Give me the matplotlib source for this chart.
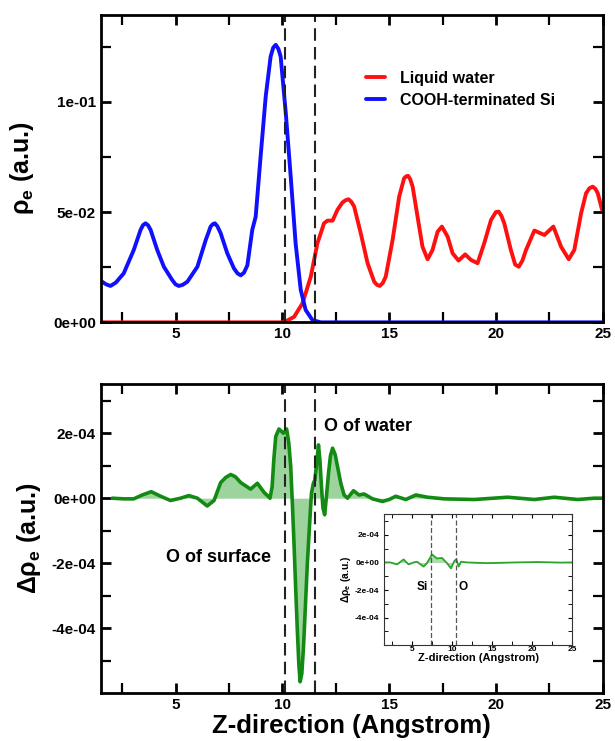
import numpy as np
import matplotlib.pyplot as plt
from matplotlib.ticker import MultipleLocator, FuncFormatter

plt.rcParams['font.family'] = ['Liberation Sans', 'DejaVu Sans']
plt.rcParams['font.weight'] = 'bold'
plt.rcParams['mathtext.fontset'] = 'custom'
plt.rcParams['mathtext.rm'] = 'Liberation Sans'
plt.rcParams['mathtext.it'] = 'Liberation Sans:italic'
plt.rcParams['mathtext.bf'] = 'Liberation Sans:bold'

# electron density, COOH-terminated Si slab
z_si = [1.56, 1.75, 1.95, 2.2, 2.57, 3.04, 3.36, 3.47, 3.59, 3.71, 3.83, 4.14,
        4.45, 4.84, 5.0, 5.15, 5.33, 5.55, 6.02, 6.41, 6.64, 6.74, 6.84, 6.96,
        7.11, 7.42, 7.73, 7.9, 8.05, 8.2, 8.36, 8.59, 8.75, 8.98, 9.22, 9.45,
        9.57, 9.69, 9.81, 9.92, 10.16, 10.39, 10.62, 10.86, 11.09, 11.41, 11.8,
        25.0]
rho_si = [0.0184, 0.0172, 0.0165, 0.018, 0.0222, 0.0328, 0.0419, 0.044, 0.0449,
          0.044, 0.0419, 0.0328, 0.0252, 0.0192, 0.0172, 0.0165, 0.017, 0.0184,
          0.0252, 0.0373, 0.0434, 0.0445, 0.0449, 0.0435, 0.0404, 0.0313,
          0.0245, 0.0222, 0.0213, 0.0225, 0.0258, 0.0419, 0.0479, 0.0751,
          0.1024, 0.1205, 0.1245, 0.1258, 0.124, 0.1205, 0.0948, 0.0661,
          0.0358, 0.0147, 0.0056, 0.001, 0.0, 0.0]

# electron density, liquid water
z_w = [1.5, 10.08, 10.55, 10.94, 11.33, 11.64, 11.95, 12.11, 12.35, 12.58,
       12.81, 12.95, 13.1, 13.23, 13.36, 13.67, 13.99, 14.3, 14.43, 14.56, 14.7,
       14.84, 15.16, 15.47, 15.7, 15.8, 15.89, 15.99, 16.1, 16.33, 16.56, 16.8,
       17.03, 17.27, 17.47, 17.74, 17.97, 18.25, 18.56, 18.83, 19.14, 19.45,
       19.77, 20.0, 20.13, 20.26, 20.39, 20.7, 20.9, 21.07, 21.24, 21.41, 21.8,
       22.27, 22.69, 23.05, 23.41, 23.67, 23.99, 24.22, 24.38, 24.53, 24.66,
       24.77, 24.97]
rho_w = [0.0, 0.0, 0.0025, 0.0086, 0.0207, 0.0358, 0.0449, 0.0461, 0.0461,
         0.051, 0.0543, 0.0553, 0.0558, 0.0546, 0.0525, 0.0404, 0.0268, 0.0184,
         0.017, 0.0165, 0.0178, 0.0207, 0.0373, 0.057, 0.0653, 0.0662, 0.0664,
         0.0648, 0.0615, 0.0479, 0.0343, 0.0286, 0.0328, 0.0411, 0.0434,
         0.0388, 0.0313, 0.028, 0.0308, 0.0283, 0.0268, 0.0358, 0.0464, 0.05,
         0.0502, 0.0482, 0.0449, 0.0328, 0.0262, 0.0252, 0.028, 0.0328, 0.0416,
         0.0396, 0.0434, 0.0343, 0.0286, 0.0328, 0.0495, 0.0585, 0.0608, 0.0615,
         0.0605, 0.0585, 0.051]

# charge density difference
z_d = [2.03, 2.58, 3.04, 3.44, 3.86, 4.3, 4.76, 5.23, 5.62, 6.02, 6.48, 6.8,
       7.11, 7.35, 7.58, 7.8, 8.05, 8.51, 8.83, 9.14, 9.3, 9.42, 9.52, 9.6,
       9.69, 9.84, 10.05, 10.2, 10.3, 10.39, 10.47, 10.55, 10.63, 10.7, 10.77,
       10.83, 10.91, 10.99, 11.08, 11.17, 11.27, 11.36, 11.45, 11.52, 11.61,
       11.69, 11.76, 11.83, 11.9, 11.98, 12.07, 12.16, 12.25, 12.35, 12.47,
       12.58, 12.74, 12.89, 13.05, 13.33, 13.59, 13.83, 14.22, 14.69, 15.0,
       15.31, 15.78, 16.25, 16.8, 17.58, 18.98, 20.55, 21.8, 22.73, 23.83,
       24.6, 25.0]
drho = [0.0, -0.02e-4, -0.02e-4, 0.1e-4, 0.2e-4, 0.06e-4, -0.07e-4, 0.0,
        0.08e-4, 0.0, -0.24e-4, -0.07e-4, 0.48e-4, 0.64e-4, 0.73e-4, 0.66e-4,
        0.48e-4, 0.28e-4, 0.46e-4, 0.18e-4, 0.08e-4, 0.0, 0.35e-4, 1.2e-4,
        1.9e-4, 2.13e-4, 2.0e-4, 2.13e-4, 1.7e-4, 0.98e-4, -0.2e-4, -1.49e-4,
        -2.9e-4, -4.06e-4, -5.1e-4, -5.65e-4, -5.4e-4, -4.57e-4, -3.3e-4,
        -2.0e-4, -0.85e-4, 0.15e-4, 0.45e-4, 0.56e-4, 1.1e-4, 1.64e-4, 1.15e-4,
        0.36e-4, -0.3e-4, -0.51e-4, 0.1e-4, 0.77e-4, 1.3e-4, 1.54e-4, 1.35e-4,
        0.98e-4, 0.45e-4, 0.1e-4, 0.0, 0.23e-4, 0.1e-4, 0.13e-4, -0.02e-4,
        -0.1e-4, -0.04e-4, 0.06e-4, -0.04e-4, 0.1e-4, 0.03e-4, -0.02e-4,
        -0.04e-4, 0.03e-4, -0.04e-4, 0.03e-4, -0.04e-4, 0.0, 0.0]

# inset: charge density difference, Si side
z_in = [1.6, 2.29, 3.13, 3.95, 4.57, 5.2, 5.62, 6.45, 6.87, 7.5, 8.12, 8.75,
        9.37, 9.87, 10.29, 10.54, 10.83, 11.12, 11.9, 14.4, 17.8, 20.7, 23.6,
        25.0]
drho_in = [0.0, 0.0, -0.14e-4, 0.22e-4, -0.14e-4, 0.0, 0.05e-4, -0.3e-4,
           -0.05e-4, 0.58e-4, 0.29e-4, 0.33e-4, -0.05e-4, -0.43e-4, 0.1e-4,
           0.24e-4, -0.3e-4, 0.05e-4, 0.0, -0.05e-4, 0.0, 0.03e-4, -0.01e-4,
           0.0]

# interface boundaries
bounds = [10.13, 11.52]
bounds_in = [7.37, 10.45]

GREEN = '#138a13'
FILL = '#5cb85c'


def sci(v, p):
    return f'{v:.0e}'


def style_axes(ax, lw=2.0, major=7, minor=7, labelsize=11):
    for sp in ax.spines.values():
        sp.set_linewidth(lw)
    ax.tick_params(which='both', direction='in', top=True, right=True,
                   labelsize=labelsize)
    ax.tick_params(which='major', length=major, width=lw)
    ax.tick_params(which='minor', length=minor, width=lw * 0.8)
    for lab in ax.get_xticklabels() + ax.get_yticklabels():
        lab.set_fontweight('bold')


fig = plt.figure(figsize=(6.15, 7.41), dpi=100)

# ---------- top: electron density ----------
ax1 = fig.add_axes([0.164, 0.565, 0.816, 0.415])
ax1.plot(z_w, rho_w, color='#ff1010', lw=2.8, label='Liquid water',
         solid_joinstyle='round', solid_capstyle='round')
ax1.plot(z_si, rho_si, color='#1010ff', lw=2.8, label='COOH-terminated Si',
         solid_joinstyle='round', solid_capstyle='round')
for b in bounds:
    ax1.axvline(b, color='#222222', lw=1.5, ls=(0, (6, 3)))
ax1.set_xlim(1.5, 25)
ax1.set_ylim(0, 0.1394)
ax1.xaxis.set_major_locator(MultipleLocator(5))
ax1.xaxis.set_minor_locator(MultipleLocator(2.5))
ax1.yaxis.set_major_locator(MultipleLocator(0.05))
ax1.yaxis.set_minor_locator(MultipleLocator(0.025))
ax1.yaxis.set_major_formatter(FuncFormatter(sci))
ax1.set_ylabel(r'$\mathrm{\rho}_{\mathbf{e}}$ (a.u.)', fontsize=18,
               fontweight='bold', labelpad=12)
style_axes(ax1)
ax1.legend(loc='upper left', bbox_to_anchor=(0.5, 0.865), frameon=False,
           prop={'weight': 'bold', 'size': 11.5}, handlelength=1.2,
           handletextpad=0.9, labelspacing=0.45)

# ---------- bottom: charge density difference ----------
ax2 = fig.add_axes([0.164, 0.065, 0.816, 0.417])
ax2.fill_between(z_d, drho, 0, color=FILL, alpha=0.6, lw=0)
ax2.plot(z_d, drho, color=GREEN, lw=2.6, solid_joinstyle='round',
         solid_capstyle='round')
for b in bounds:
    ax2.axvline(b, color='#222222', lw=1.5, ls=(0, (6, 3)))
ax2.set_xlim(1.5, 25)
ax2.set_ylim(-5.99e-4, 3.52e-4)
ax2.xaxis.set_major_locator(MultipleLocator(5))
ax2.xaxis.set_minor_locator(MultipleLocator(2.5))
ax2.yaxis.set_major_locator(MultipleLocator(2e-4))
ax2.yaxis.set_minor_locator(MultipleLocator(1e-4))
ax2.yaxis.set_major_formatter(FuncFormatter(sci))
ax2.set_ylabel(r'$\Delta\mathrm{\rho}_{\mathbf{e}}$ (a.u.)', fontsize=18,
               fontweight='bold', labelpad=6)
ax2.set_xlabel('Z-direction (Angstrom)', fontsize=18.5, fontweight='bold',
               labelpad=2)
style_axes(ax2)
ax2.text(11.95, 2.2e-4, 'O of water', fontsize=13, fontweight='bold',
         va='center')
ax2.text(4.55, -1.84e-4, 'O of surface', fontsize=13, fontweight='bold',
         va='center')

# ---------- inset ----------
ax3 = fig.add_axes([0.6244, 0.1296, 0.3057, 0.1764])
ax3.fill_between(z_in, drho_in, 0, color=FILL, alpha=0.5, lw=0)
ax3.plot(z_in, drho_in, color='#2aa52a', lw=1.3, solid_joinstyle='round')
for b in bounds_in:
    ax3.axvline(b, color='#555555', lw=0.9, ls=(0, (4, 2)))
ax3.set_xlim(1.5, 25)
ax3.set_ylim(-5.99e-4, 3.5e-4)
ax3.xaxis.set_major_locator(MultipleLocator(5))
ax3.xaxis.set_minor_locator(MultipleLocator(2.5))
ax3.yaxis.set_major_locator(MultipleLocator(2e-4))
ax3.yaxis.set_minor_locator(MultipleLocator(1e-4))
ax3.yaxis.set_major_formatter(FuncFormatter(sci))
ax3.set_ylabel(r'$\Delta\mathrm{\rho}_{\mathbf{e}}$ (a.u.)', fontsize=7.5,
               fontweight='bold', labelpad=1)
ax3.set_xlabel('Z-direction (Angstrom)', fontsize=8, fontweight='bold',
               labelpad=0)
style_axes(ax3, lw=0.8, major=3, minor=3, labelsize=6)
for sp in ax3.spines.values():
    sp.set_color('#333333')
ax3.xaxis.set_tick_params(pad=1)
ax3.text(6.95, -1.75e-4, 'Si', fontsize=8.5, fontweight='bold', ha='right',
         va='center')
ax3.text(10.8, -1.75e-4, 'O', fontsize=8.5, fontweight='bold', ha='left',
         va='center')

fig.savefig('out.png', dpi=100)
